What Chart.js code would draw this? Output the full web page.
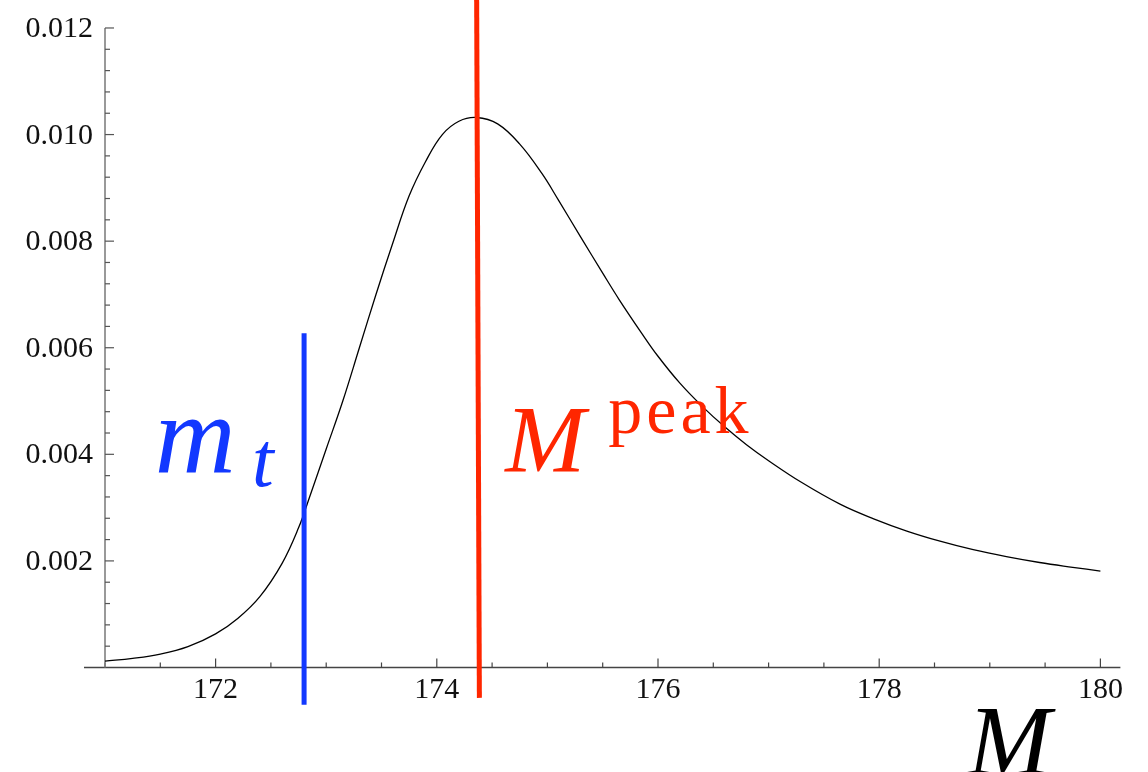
<!DOCTYPE html>
<html>
<head>
<meta charset="UTF-8" />
<title>Invariant mass distribution</title>
<script src="https://cdn.jsdelivr.net/npm/chart.js"></script>
<style>
body { margin:0; background:#fff; }
canvas { display:block; }
</style>
</head>
<body>
<canvas id="chart" width="1148" height="772"></canvas>
<script>
// distribution in M (GeV)
const massM = [171.0, 171.25, 171.5, 171.75, 172.0, 172.2, 172.4, 172.6, 172.75, 172.85,
  173.0, 173.15, 173.3, 173.45, 173.6, 173.75, 173.9, 174.05, 174.2, 174.36,
  174.55, 174.75, 174.95, 175.1, 175.3, 175.5, 175.65, 175.85, 176.0, 176.2,
  176.4, 176.6, 176.8, 177.0, 177.3, 177.65, 177.95, 178.25, 178.55, 178.85,
  179.15, 179.45, 179.75, 180.0];
const density = [0.00012, 0.00017, 0.00025, 0.00039, 0.00063, 0.00092, 0.00133, 0.00195, 0.00262, 0.0032,
  0.0041, 0.0050, 0.0060, 0.0070, 0.00795, 0.00885, 0.0095, 0.0100, 0.01025, 0.01032,
  0.0102, 0.00982, 0.00927, 0.00877, 0.00808, 0.0074, 0.0069, 0.00628, 0.00584, 0.00533,
  0.0049, 0.00452, 0.00418, 0.00388, 0.00347, 0.00306, 0.00279, 0.00256, 0.00237, 0.00221,
  0.00208, 0.00197, 0.00188, 0.00181];

// vertical markers: top-quark mass and peak position
const mtLineX = [172.8, 172.8];
const mtLineY = [0.00627, -0.0007];
const peakLineX = [174.36, 174.385];
const peakLineY = [0.0127, -0.00057];

// axis ticks
const xMajorTicks = [172, 174, 176, 178, 180];
const xMinorTicks = [171, 171.5, 172.5, 173, 173.5, 174.5, 175, 175.5, 176.5, 177, 177.5, 178.5, 179, 179.5];
const xTickLabels = ['172', '174', '176', '178', '180'];
const yMajorTicks = [0.002, 0.004, 0.006, 0.008, 0.010, 0.012];
const yTickLabels = ['0.002', '0.004', '0.006', '0.008', '0.010', '0.012'];
const yMinorStep = 0.0004;

const toPts = (xs, ys) => xs.map((x, i) => ({ x, y: ys[i] }));

const serif = '"Liberation Serif", "Times New Roman", serif';

// Mathematica-style axes: inward ticks, axes crossing at (171, 0)
const axesPlugin = {
  id: 'axes',
  beforeDatasetsDraw(chart) {
    const { ctx, scales: { x, y } } = chart;
    const x0 = x.getPixelForValue(171);
    const y0 = y.getPixelForValue(0);
    ctx.save();
    ctx.lineCap = 'butt';

    // x axis
    ctx.strokeStyle = '#444';
    ctx.lineWidth = 1.5;
    ctx.beginPath();
    ctx.moveTo(x0 - 21, y0);
    ctx.lineTo(x.getPixelForValue(180) + 20, y0);
    ctx.stroke();
    ctx.lineWidth = 1.2;
    xMajorTicks.forEach(v => {
      const px = x.getPixelForValue(v);
      ctx.beginPath(); ctx.moveTo(px, y0); ctx.lineTo(px, y0 - 9); ctx.stroke();
    });
    xMinorTicks.forEach(v => {
      const px = x.getPixelForValue(v);
      ctx.beginPath(); ctx.moveTo(px, y0); ctx.lineTo(px, y0 - 5); ctx.stroke();
    });

    // y axis
    const yTop = y.getPixelForValue(0.012);
    ctx.strokeStyle = '#808080';
    ctx.lineWidth = 1.6;
    ctx.beginPath();
    ctx.moveTo(x0, y0);
    ctx.lineTo(x0, yTop);
    ctx.stroke();
    ctx.strokeStyle = '#555';
    ctx.lineWidth = 1.2;
    for (let k = 1; k * yMinorStep < 0.0121; k++) {
      const v = k * yMinorStep;
      const py = y.getPixelForValue(v);
      const major = k % 5 === 0;
      ctx.beginPath(); ctx.moveTo(x0, py); ctx.lineTo(x0 + (major ? 9 : 5), py); ctx.stroke();
    }

    // tick labels
    ctx.fillStyle = '#111';
    ctx.font = '30px ' + serif;
    ctx.textBaseline = 'alphabetic';
    ctx.textAlign = 'center';
    xMajorTicks.forEach((v, i) => {
      ctx.fillText(xTickLabels[i], x.getPixelForValue(v), y0 + 31);
    });
    ctx.textAlign = 'right';
    yMajorTicks.forEach((v, i) => {
      ctx.fillText(yTickLabels[i], x0 - 12, y.getPixelForValue(v) + 9);
    });
    ctx.restore();
  },
  afterDatasetsDraw(chart) {
    const { ctx, scales: { x, y } } = chart;
    ctx.save();
    ctx.textAlign = 'left';
    ctx.textBaseline = 'alphabetic';

    // m_t label
    ctx.fillStyle = '#1238ff';
    ctx.font = 'italic 112px ' + serif;
    ctx.fillText('m', x.getPixelForValue(171.45), y.getPixelForValue(0.00365));
    ctx.font = 'italic 78px ' + serif;
    ctx.fillText('t', x.getPixelForValue(172.33), y.getPixelForValue(0.0034));

    // M^peak label
    ctx.fillStyle = '#ff2600';
    ctx.font = 'italic 96px ' + serif;
    ctx.fillText('M', x.getPixelForValue(174.62), y.getPixelForValue(0.00366));
    ctx.font = '68px ' + serif;
    ctx.letterSpacing = '4px';
    ctx.fillText('peak', x.getPixelForValue(175.55), y.getPixelForValue(0.00440));
    ctx.letterSpacing = '0px';

    // axis title
    ctx.fillStyle = '#000';
    ctx.font = 'italic 100px ' + serif;
    ctx.fillText('M', x.getPixelForValue(178.8), y.getPixelForValue(-0.00199));
    ctx.restore();
  }
};

function draw() {
  new Chart(document.getElementById('chart'), {
    type: 'line',
    data: {
      datasets: [
        {
          label: 'M^peak',
          data: toPts(peakLineX, peakLineY),
          borderColor: '#ff2600',
          borderWidth: 5,
          pointRadius: 0,
          order: 1
        },
        {
          label: 'm_t',
          data: toPts(mtLineX, mtLineY),
          borderColor: '#1238ff',
          borderWidth: 5,
          pointRadius: 0,
          order: 2
        },
        {
          label: 'density',
          data: toPts(massM, density),
          borderColor: '#000',
          borderWidth: 1.3,
          pointRadius: 0,
          tension: 0.4,
          order: 3
        }
      ]
    },
    options: {
      responsive: false,
      animation: false,
      devicePixelRatio: 1,
      layout: { padding: 0 },
      clip: false,
      plugins: { legend: { display: false }, tooltip: { enabled: false } },
      scales: {
        x: { type: 'linear', min: 170.0506, max: 180.4304, display: false },
        y: { type: 'linear', min: -0.001961, max: 0.012525, display: false }
      }
    },
    plugins: [axesPlugin]
  });
}

// make sure the serif faces are ready before the canvas text is drawn
Promise.all([
  document.fonts.load('30px "Liberation Serif"'),
  document.fonts.load('italic 30px "Liberation Serif"')
]).then(draw, draw);
</script>
</body>
</html>
